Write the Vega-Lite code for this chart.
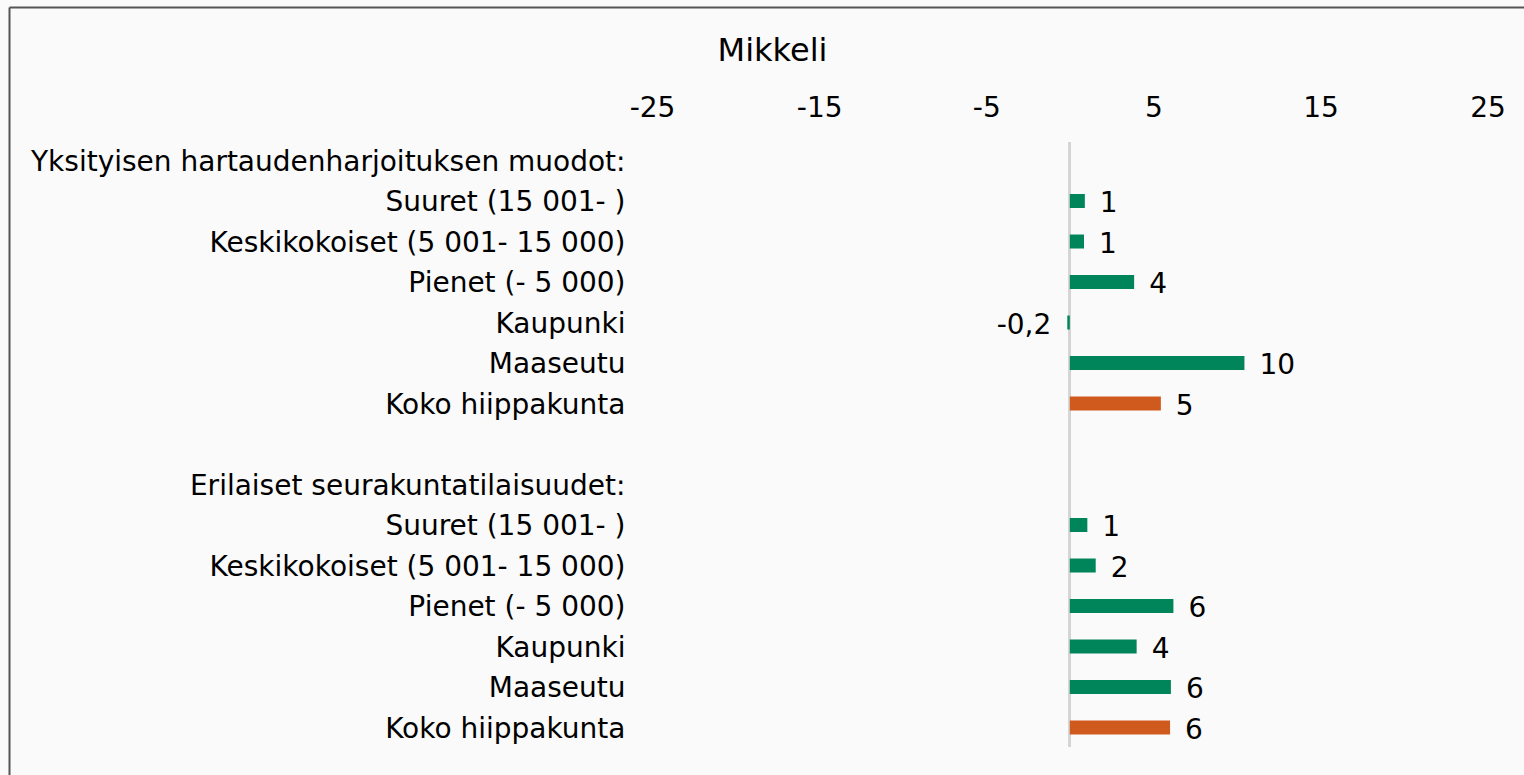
{
  "$schema": "https://vega.github.io/schema/vega-lite/v6.json",
  "autosize": {"type": "none"},
  "width": 1515,
  "height": 768,
  "padding": {"left": 9, "top": 7, "right": 0, "bottom": 0},
  "background": "#FAFAFA",
  "config": {
    "view": {"stroke": null},
    "font": "DejaVu Sans"
  },
  "title": {
    "text": "Mikkeli",
    "font": "DejaVu Sans",
    "fontSize": 32,
    "fontWeight": "normal",
    "color": "#000000",
    "anchor": "middle",
    "frame": "group",
    "baseline": "alphabetic",
    "offset": -86,
    "dx": 6
  },
  "data": {
    "values": [
      {"rivi": "02|Suuret (15 001- )", "arvo": 0.9, "teksti": "1", "ryhma": "osa"},
      {"rivi": "03|Keskikokoiset (5 001- 15 000)", "arvo": 0.85, "teksti": "1", "ryhma": "osa"},
      {"rivi": "04|Pienet (- 5 000)", "arvo": 3.85, "teksti": "4", "ryhma": "osa"},
      {"rivi": "05|Kaupunki", "arvo": -0.15, "teksti": "-0,2", "ryhma": "osa"},
      {"rivi": "06|Maaseutu", "arvo": 10.45, "teksti": "10", "ryhma": "osa"},
      {"rivi": "07|Koko hiippakunta", "arvo": 5.45, "teksti": "5", "ryhma": "koko"},
      {"rivi": "10|Suuret (15 001- )", "arvo": 1.05, "teksti": "1", "ryhma": "osa"},
      {"rivi": "11|Keskikokoiset (5 001- 15 000)", "arvo": 1.55, "teksti": "2", "ryhma": "osa"},
      {"rivi": "12|Pienet (- 5 000)", "arvo": 6.2, "teksti": "6", "ryhma": "osa"},
      {"rivi": "13|Kaupunki", "arvo": 4.0, "teksti": "4", "ryhma": "osa"},
      {"rivi": "14|Maaseutu", "arvo": 6.05, "teksti": "6", "ryhma": "osa"},
      {"rivi": "15|Koko hiippakunta", "arvo": 6.0, "teksti": "6", "ryhma": "koko"}
    ]
  },
  "resolve": {"scale": {"y": "independent"}},
  "layer": [
    {
      "mark": {"type": "rule", "color": "#D4D4D4", "strokeWidth": 2},
      "encoding": {
        "x": {"datum": 0, "type": "quantitative"},
        "y": {"datum": 0, "type": "quantitative", "scale": {"domain": [0, 1], "range": [135, 740]}, "axis": null},
        "y2": {"datum": 1}
      }
    },
    {
      "layer": [
        {
          "mark": {"type": "bar"},
          "encoding": {
            "x": {
              "field": "arvo",
              "type": "quantitative",
              "scale": {"domain": [-63.48, 27.18], "nice": false, "zero": false},
              "axis": {
                "orient": "top",
                "values": [-25, -15, -5, 5, 15, 25],
                "labelExpr": "'' + datum.value",
                "title": null,
                "grid": false,
                "ticks": false,
                "tickSize": 0,
                "domain": true,
                "domainColor": "#555555",
                "domainWidth": 2,
                "labelFlush": false,
                "labelFont": "DejaVu Sans",
                "labelFontSize": 28,
                "labelColor": "#000000",
                "labelBaseline": "alphabetic",
                "labelPadding": -109,
                "labelOverlap": false
              }
            },
            "y": {
              "field": "rivi",
              "type": "nominal",
              "sort": null,
              "scale": {
                "domain": [
                  "a1|",
                  "a2|",
                  "a3|",
                  "01|Yksityisen hartaudenharjoituksen muodot:",
                  "02|Suuret (15 001- )",
                  "03|Keskikokoiset (5 001- 15 000)",
                  "04|Pienet (- 5 000)",
                  "05|Kaupunki",
                  "06|Maaseutu",
                  "07|Koko hiippakunta",
                  "08| ",
                  "09|Erilaiset seurakuntatilaisuudet:",
                  "10|Suuret (15 001- )",
                  "11|Keskikokoiset (5 001- 15 000)",
                  "12|Pienet (- 5 000)",
                  "13|Kaupunki",
                  "14|Maaseutu",
                  "15|Koko hiippakunta",
                  "z1|"
                ],
                "paddingInner": 0.6543,
                "paddingOuter": 0.309,
                "align": 1
              },
              "axis": {
                "orient": "left",
                "title": null,
                "grid": false,
                "ticks": false,
                "tickSize": 0,
                "domain": true,
                "domainColor": "#555555",
                "domainWidth": 2,
                "labelExpr": "split(datum.label, '|')[1]",
                "labelFont": "DejaVu Sans",
                "labelFontSize": 28,
                "labelColor": "#000000",
                "labelPadding": -616,
                "labelOffset": 2,
                "labelLimit": 2000,
                "labelOverlap": false
              }
            },
            "color": {
              "field": "ryhma",
              "type": "nominal",
              "scale": {"domain": ["osa", "koko"], "range": ["#00845A", "#D05A1E"]},
              "legend": null
            }
          }
        },
        {
          "transform": [{"filter": "datum.arvo >= 0"}],
          "mark": {"type": "text", "align": "left", "baseline": "middle", "dx": 15, "dy": 3, "font": "DejaVu Sans", "fontSize": 28, "color": "#000000"},
          "encoding": {
            "x": {"field": "arvo", "type": "quantitative"},
            "y": {"field": "rivi", "type": "nominal", "sort": null},
            "text": {"field": "teksti"}
          }
        },
        {
          "transform": [{"filter": "datum.arvo < 0"}],
          "mark": {"type": "text", "align": "right", "baseline": "middle", "dx": -16, "dy": 3, "font": "DejaVu Sans", "fontSize": 28, "color": "#000000"},
          "encoding": {
            "x": {"field": "arvo", "type": "quantitative"},
            "y": {"field": "rivi", "type": "nominal", "sort": null},
            "text": {"field": "teksti"}
          }
        }
      ]
    }
  ]
}
